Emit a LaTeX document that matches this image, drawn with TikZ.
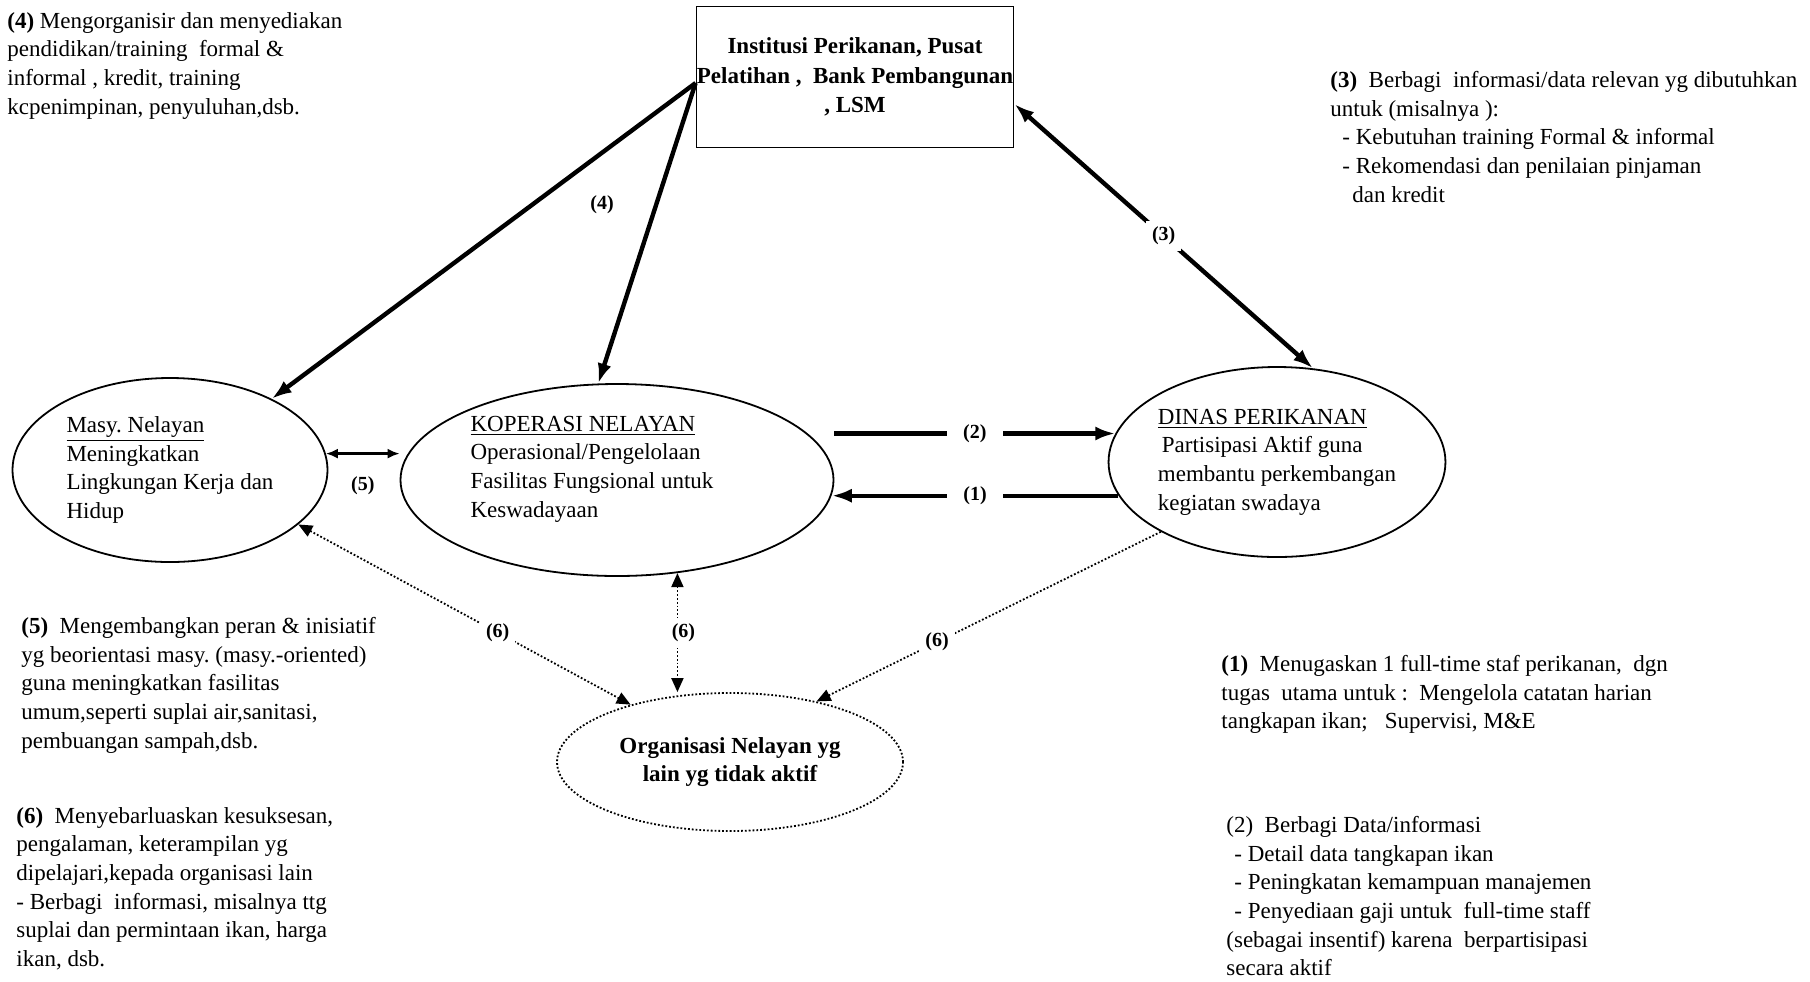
\documentclass[tikz,border=0pt]{standalone}
\usepackage{fontspec}
\setmainfont{Liberation Serif}
\usetikzlibrary{arrows.meta,positioning,shapes.geometric}
\frenchspacing
\tikzset{
  ell/.style={draw, ellipse, line width=0.9pt, inner sep=0pt, align=left},
  instbox/.style={draw, line width=0.9pt, align=center, inner sep=0pt, font=\bfseries\fontsize{11.5}{14.7}\selectfont},
  note/.style={anchor=north west, align=left, inner sep=0pt},
  lbl/.style={font=\bfseries\fontsize{10}{12}\selectfont, fill=white, inner sep=3pt},
  arrow/.style={-{Latex[length=10pt,width=7pt]}, line width=2.2pt},
  darrow/.style={{Latex[length=10pt,width=7pt]}-{Latex[length=10pt,width=7pt]}, line width=2.2pt},
  thinarrow/.style={{Latex[length=6pt,width=5pt]}-{Latex[length=6pt,width=5pt]}, line width=1.4pt},
  dots/.style={densely dotted, line width=0.9pt, -{Triangle[length=7pt,width=6pt]}},
  ddots/.style={densely dotted, line width=0.9pt, {Triangle[length=7pt,width=6pt]}-{Triangle[length=7pt,width=6pt]}}
}

\begin{document}
\begin{tikzpicture}[x=0.5pt, y=-0.5pt, font=\fontsize{11.5}{14.3}\selectfont]
  \useasboundingbox (0,0) rectangle (1810,981);

  % institutions
  \node[instbox, minimum width=158.5pt, minimum height=70.5pt] (inst) at (855,77)
    {Institusi Perikanan, Pusat\\ Pelatihan ,~ Bank Pembangunan\\ , LSM};

  % ellipses
  \node[ell, minimum width=157.5pt, minimum height=92pt] (masy) at (170,470)
    {\underline{Masy. Nelayan}\\ Meningkatkan\\ Lingkungan Kerja dan\\ Hidup};
  \node[ell, minimum width=216.5pt, minimum height=96pt] (kop) at (617,480) {};
  \node[align=left, inner sep=0pt] (kopt) at (592,469)
    {\underline{KOPERASI NELAYAN}\\ Operasional/Pengelolaan\\ Fasilitas Fungsional untuk\\ Keswadayaan};
  \node[ell, minimum width=166pt, minimum height=95pt] (dinas) at (1277,462)
    {\underline{DINAS PERIKANAN}\\ \hspace*{2pt}Partisipasi Aktif guna\\ membantu perkembangan\\ kegiatan swadaya};
  \node[ell, densely dotted, align=center, font=\bfseries\fontsize{11.5}{14.3}\selectfont,
        minimum width=173pt, minimum height=69pt] (org) at (730,762)
    {Organisasi Nelayan yg\\ lain yg tidak aktif};

  % (4)
  \draw[arrow] ([yshift=-3pt]inst.west) -- (masy.35);
  \draw[arrow] ([yshift=-3pt]inst.west) -- (kop.101);
  \node[lbl] (l4) at (602,205) {(4)};

  % (3)
  \draw[darrow] ([yshift=-13.5pt]inst.east) -- node[lbl] {(3)} (dinas.69);

  % (2) and (1)
  \draw[arrow] (kop.east |- dinas.170) -- node[lbl, inner xsep=8pt] {(2)} (dinas.170);
  \draw[arrow] (dinas.192) -- node[lbl, inner xsep=8pt] {(1)} (kop.-4 |- dinas.192);

  % (5)
  \draw[thinarrow] (masy.6) -- node[lbl, below=8pt, fill=none] {(5)} (kop.west |- masy.6);

  % (6)
  \draw[ddots] (masy.-23) -- node[lbl, pos=0.6] {(6)} (org.150);
  \draw[ddots] (kop.-57) -- node[lbl, xshift=3pt] {(6)} (kop.-57 |- org.north);
  \draw[dots] (dinas.211) -- node[lbl, pos=0.65] {(6)} (org.35);

  % notes
  \node[note] (n4) at (7,12) {\textbf{(4)} Mengorganisir dan menyediakan\\ pendidikan/training~ formal \&\\ informal , kredit, training\\ kcpenimpinan, penyuluhan,dsb.};
  \node[note] (n3) at (1330,71) {\textbf{(3)}~ Berbagi~ informasi/data relevan yg dibutuhkan\\ untuk (misalnya ):\\ \hspace*{6pt}- Kebutuhan training Formal \& informal\\ \hspace*{6pt}- Rekomendasi dan penilaian pinjaman\\ \hspace*{11pt}dan kredit};
  \node[note] (n5) at (21,617) {\textbf{(5)}~ Mengembangkan peran \& inisiatif\\ yg beorientasi masy. (masy.-oriented)\\ guna meningkatkan fasilitas\\ umum,seperti suplai air,sanitasi,\\ pembuangan sampah,dsb.};
  \node[note] (n6) at (16,807) {\textbf{(6)}~ Menyebarluaskan kesuksesan,\\ pengalaman, keterampilan yg\\ dipelajari,kepada organisasi lain\\ - Berbagi~ informasi, misalnya ttg\\ suplai dan permintaan ikan, harga\\ ikan, dsb.};
  \node[note] (n1) at (1221,655) {\textbf{(1)}~ Menugaskan 1 full-time staf perikanan,~ dgn\\ tugas~ utama untuk :~ Mengelola catatan harian\\ tangkapan ikan;~~ Supervisi, M\&E};
  \node[note] (n2) at (1226,816) {(2)~ Berbagi Data/informasi\\ \hspace*{4pt}- Detail data tangkapan ikan\\ \hspace*{4pt}- Peningkatan kemampuan manajemen\\ \hspace*{4pt}- Penyediaan gaji untuk~ full-time staff\\ (sebagai insentif) karena~ berpartisipasi\\ secara aktif};
\end{tikzpicture}
\end{document}
